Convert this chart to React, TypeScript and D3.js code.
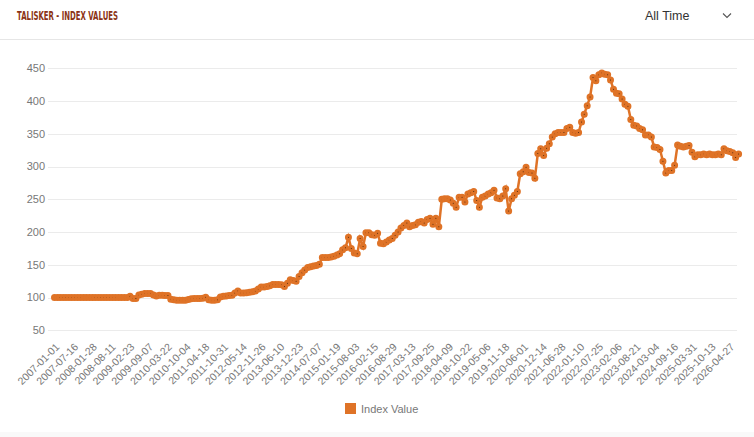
import React, { useRef, useEffect } from 'react';
import * as d3 from 'd3';

// monthly readings of the index (first of each month)
const years = [
  2007, 2008, 2009, 2010, 2011, 2012, 2013, 2014, 2015, 2016,
  2017, 2018, 2019, 2020, 2021, 2022, 2023, 2024, 2025, 2026
];

const v2007 = [100, 100, 100, 100, 100, 100, 100, 100, 100, 100, 100, 100];
const v2008 = [100, 100, 100, 100, 100, 100, 100, 100, 100, 100, 100, 100];
const v2009 = [100, 100, 102, 98.5, 98.5, 104, 105, 106, 106, 106, 104, 102.5];
const v2010 = [103.5, 103.5, 103, 103, 97.5, 96.5, 96, 96, 96, 96, 97, 98];
const v2011 = [98.5, 98.5, 98.5, 99, 100.5, 96.5, 96, 96, 96.5, 101, 102, 102.5];
const v2012 = [103, 103.5, 107, 110, 107, 107, 107.5, 108, 109, 110, 113, 116];
const v2013 = [116, 117, 118, 120, 120, 120, 119.5, 117, 122, 127, 126, 125];
const v2014 = [132, 138, 142, 146, 147, 148, 149, 151, 161, 161, 161, 162];
const v2015 = [163, 165, 167, 173, 176, 192, 175, 168, 167, 190, 178, 199];
const v2016 = [199, 196, 195, 198, 183, 182, 185, 188, 190, 195, 200, 206];
const v2017 = [210, 214, 208, 210, 211, 215, 216, 214, 219, 221, 212, 221];
const v2018 = [208, 250, 251, 251, 249, 244, 238, 253, 253, 246, 258, 260];
const v2019 = [262, 248, 238, 253, 255, 258, 260, 264, 252, 251, 255, 266];
const v2020 = [232, 251, 256, 262, 289, 292, 299, 291, 290, 282, 320, 327];
const v2021 = [317, 328, 335, 345, 350, 352, 352, 352, 358, 360, 352, 351];
const v2022 = [352, 368, 380, 393, 406, 436, 431, 440, 443, 441, 440, 432];
const v2023 = [418, 412, 411, 403, 395, 392, 372, 363, 362, 358, 356, 348];
const v2024 = [348, 345, 330, 329, 326, 308, 290, 294, 294, 302, 333, 331];
const v2025 = [330, 331, 332, 322, 315, 318, 318, 319, 318, 319, 318, 318];
const v2026 = [319, 318, 327, 324, 323, 321, 314, 319];

const yearValues = [
  v2007, v2008, v2009, v2010, v2011, v2012, v2013, v2014, v2015, v2016,
  v2017, v2018, v2019, v2020, v2021, v2022, v2023, v2024, v2025, v2026
];

const xTickLabels = [
  '2007-01-01', '2007-07-16', '2008-01-28', '2008-08-11', '2009-02-23', '2009-09-07',
  '2010-03-22', '2010-10-04', '2011-04-18', '2011-10-31', '2012-05-14', '2012-11-26',
  '2013-06-10', '2013-12-23', '2014-07-07', '2015-01-19', '2015-08-03', '2016-02-15',
  '2016-08-29', '2017-03-13', '2017-09-25', '2018-04-09', '2018-10-22', '2019-05-06',
  '2019-11-18', '2020-06-01', '2020-12-14', '2021-06-28', '2022-01-10', '2022-07-25',
  '2023-02-06', '2023-08-21', '2024-03-04', '2024-09-16', '2025-03-31', '2025-10-13',
  '2026-04-27'
];

const yTicks = [50, 100, 150, 200, 250, 300, 350, 400, 450];

const chartTitle = 'TALISKER - INDEX VALUES';
const rangeLabel = 'All Time';
const seriesName = 'Index Value';

const ORANGE = '#df7327';
const FONT = "'Liberation Sans', Arial, sans-serif";

const App: React.FC = () => {
  const svgRef = useRef<SVGSVGElement>(null);
  const width = 754;
  const height = 437;

  useEffect(() => {
    if (!svgRef.current) return;
    const svg = d3.select(svgRef.current);
    svg.selectAll('*').remove();

    const parse = d3.utcParse('%Y-%m-%d');
    const data: { date: Date; value: number }[] = [];
    years.forEach((yr, i) => {
      yearValues[i].forEach((v, m) => {
        data.push({ date: new Date(Date.UTC(yr, m, 1)), value: v });
      });
    });

    const x = d3.scaleUtc()
      .domain([new Date(Date.UTC(2007, 0, 1)), new Date(Date.UTC(2026, 7, 1))])
      .range([54.5, 738.6]);

    const y = d3.scaleLinear()
      .domain([50, 450])
      .range([330.3, 68.3]);

    svg.append('rect')
      .attr('width', width).attr('height', height)
      .attr('fill', '#ffffff');
    svg.append('rect')
      .attr('y', 432).attr('width', width).attr('height', 5)
      .attr('fill', '#f9f9f9');

    // header
    svg.append('text')
      .attr('x', 17).attr('y', 16).attr('dy', '0.35em')
      .attr('textLength', 101).attr('lengthAdjust', 'spacingAndGlyphs')
      .style('font-family', "'Liberation Sans Narrow', 'DejaVu Sans Condensed', Roboto, sans-serif")
      .style('font-size', '12.5px')
      .style('font-weight', '600')
      .style('fill', '#8b3315')
      .text(chartTitle);

    svg.append('text')
      .attr('x', 645).attr('y', 16).attr('dy', '0.35em')
      .style('font-family', FONT)
      .style('font-size', '12.5px')
      .style('fill', '#333')
      .text(rangeLabel);

    svg.append('path')
      .attr('d', 'M723,13.5 L727,17.5 L731,13.5')
      .attr('fill', 'none')
      .attr('stroke', '#555')
      .attr('stroke-width', 1.1);

    svg.append('line')
      .attr('x1', 0).attr('x2', width)
      .attr('y1', 39.5).attr('y2', 39.5)
      .attr('stroke', '#e6e6e6');

    // y grid + labels
    const g = svg.append('g');
    yTicks.forEach(t => {
      g.append('line')
        .attr('x1', 48).attr('x2', 737)
        .attr('y1', Math.round(y(t)) + 0.5).attr('y2', Math.round(y(t)) + 0.5)
        .attr('stroke', '#ebebeb');
      g.append('text')
        .attr('x', 45).attr('y', y(t)).attr('dy', '0.35em')
        .attr('text-anchor', 'end')
        .style('font-family', FONT)
        .style('font-size', '11px')
        .style('fill', '#777')
        .text(String(t));
    });

    // x labels
    xTickLabels.forEach(lbl => {
      const px = x(parse(lbl) as Date);
      g.append('text')
        .attr('transform', `translate(${px + 3},345) rotate(-45)`)
        .attr('dy', '0.35em')
        .attr('text-anchor', 'end')
        .style('font-family', FONT)
        .style('font-size', '10.5px')
        .style('fill', '#777')
        .text(lbl);
    });

    // series line
    const line = d3.line<{ date: Date; value: number }>()
      .x(d => x(d.date))
      .y(d => y(d.value));

    g.append('path')
      .datum(data)
      .attr('fill', 'none')
      .attr('stroke', ORANGE)
      .attr('stroke-width', 2.5)
      .attr('d', line);

    // points, drawn in order so later ones overlap earlier centres
    g.selectAll('circle.pt')
      .data(data)
      .enter()
      .append('circle')
      .attr('class', 'pt')
      .attr('cx', d => x(d.date))
      .attr('cy', d => y(d.value))
      .attr('r', 2)
      .attr('fill', '#3a1e0c')
      .attr('stroke', ORANGE)
      .attr('stroke-width', 3);

    // legend
    svg.append('rect')
      .attr('x', 345).attr('y', 403)
      .attr('width', 11).attr('height', 11)
      .attr('fill', ORANGE);
    svg.append('text')
      .attr('x', 361).attr('y', 409).attr('dy', '0.35em')
      .style('font-family', FONT)
      .style('font-size', '11px')
      .style('fill', '#777')
      .text(seriesName);
  }, []);

  return (
    <svg
      ref={svgRef}
      width={width}
      height={height}
      style={{ position: 'absolute', left: 0, top: 0 }}
    />
  );
};

export default App;
